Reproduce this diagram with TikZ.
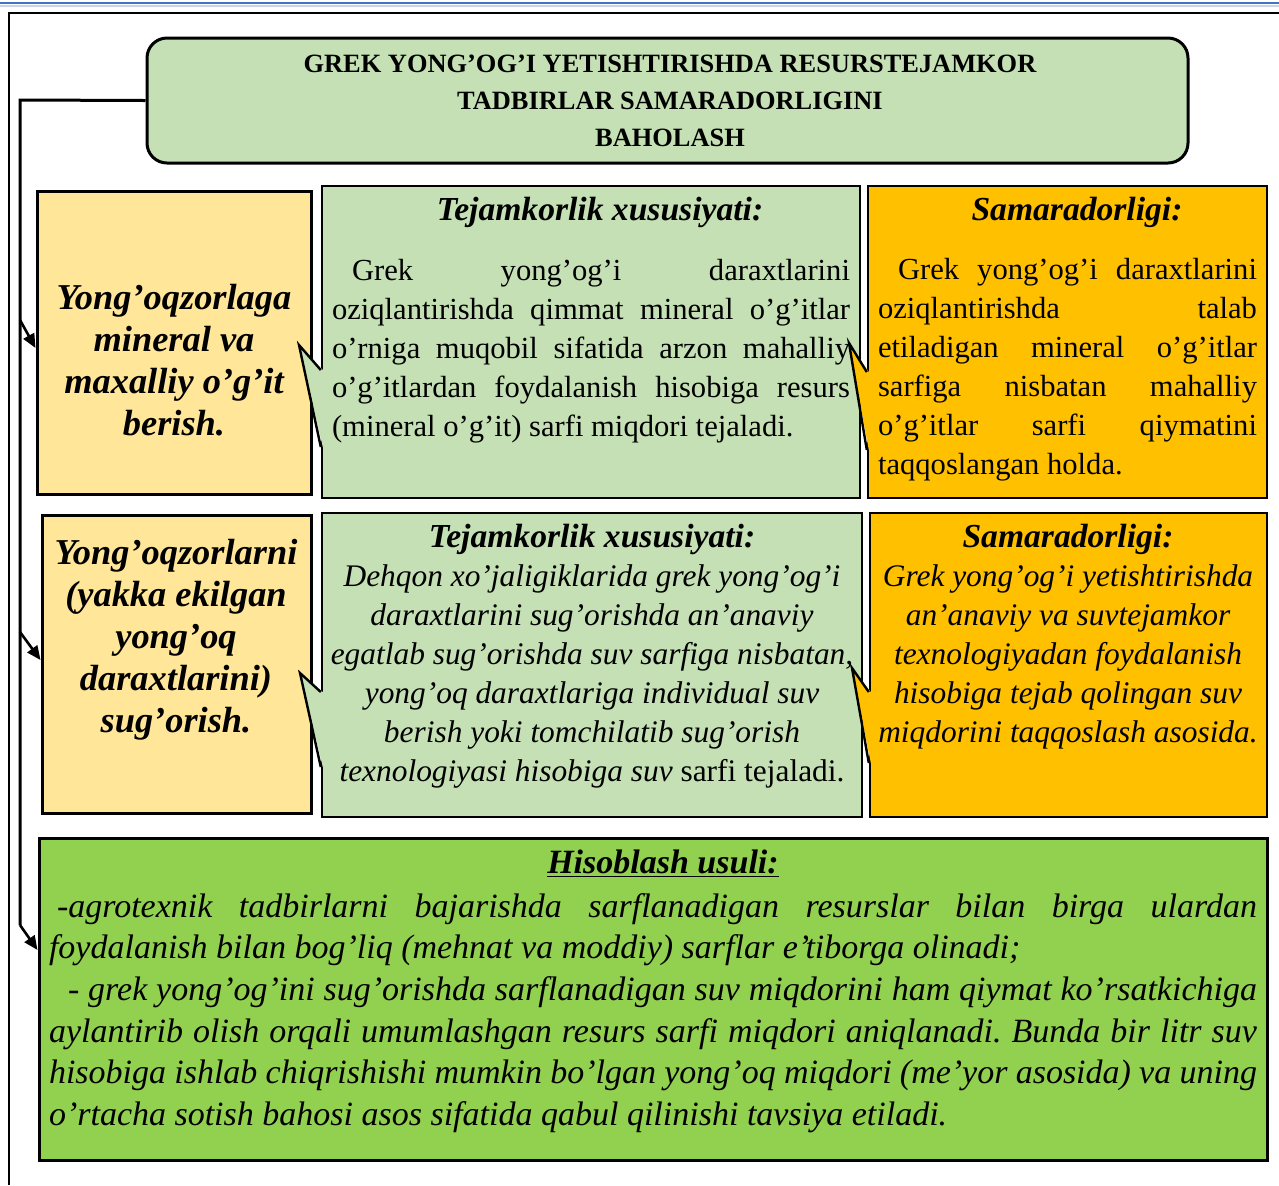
\documentclass[tikz,border=0pt]{standalone}
\usepackage{fontspec}
\setmainfont{Liberation Serif}
\usetikzlibrary{arrows.meta,calc}
\pgfdeclarelayer{bg}
\pgfsetlayers{bg,main}
\definecolor{palegreen}{HTML}{C5E0B4}
\definecolor{paleyellow}{HTML}{FFE699}
\definecolor{amber}{HTML}{FFC000}
\definecolor{leafgreen}{HTML}{92D050}
\definecolor{pageblue}{HTML}{4472C4}
\hyphenpenalty=10000
\frenchspacing
\newcommand\ttlsize{\fontsize{13.2}{18.5}\selectfont\bfseries}
\newcommand\lblsize{\fontsize{18.2}{21}\selectfont\bfseries\itshape}
\newcommand\capsize{\fontsize{16.8}{19.5}\selectfont\bfseries\itshape}
\newcommand\parsize{\fontsize{15.3}{19.5}\selectfont}
\newcommand\itsize{\fontsize{15.7}{19.5}\selectfont\itshape}
\newcommand\sumsize{\fontsize{17}{20.8}\selectfont\itshape}

\begin{document}
\begin{tikzpicture}[x=0.5pt,y=-0.5pt,
        box/.style={draw, line width=1.5pt, inner sep=0pt},
        callbox/.style={draw, line width=1.2pt, inner sep=0pt},
        txt/.style={inner sep=0pt, align=center},
        link/.style={line width=1.3pt, -{Triangle[length=7pt,width=6pt]}}]
        \useasboundingbox (0,0) rectangle (1279,1185);
        % page frame
        \draw[pageblue, line width=1pt] (0,3) -- (1279,3);
        \draw[pageblue!30, line width=0.8pt] (0,6) -- (1279,6);
        \draw[line width=1pt] (9,1185) -- (9,13) -- (1279,13);

        % heading
        \node (head) [box, rounded corners=10pt, fill=palegreen, minimum width=520.5pt, minimum height=62.5pt] at (667.5,100.5) {};
        \node (headtxt) [txt, font=\ttlsize] at (670,101) {GREK YONG’OG’I YETISHTIRISHDA RESURSTEJAMKOR\\TADBIRLAR SAMARADORLIGINI\\BAHOLASH};

        % first row
        \node (b1) [box, fill=paleyellow, minimum width=137pt, minimum height=151.5pt] at (174,342.5) {};
        \node (b2) [callbox, fill=palegreen, minimum width=269pt, minimum height=156pt] at (591,342) {};
        \node (b3) [callbox, fill=amber, minimum width=199.5pt, minimum height=156pt] at (1067.5,342) {};
        \fill[palegreen] (299,345) -- ($(b2.west)+(2,28)$) -- ($(b2.west)+(2,105)$) -- cycle;
        \draw[line width=1.2pt] ($(b2.west)+(0,28)$) -- (299,345) -- ($(b2.west)+(0,105)$);
        \fill[amber] (849,343) -- ($(b3.west)+(2,30)$) -- ($(b3.west)+(2,108)$) -- cycle;
        \draw[line width=1.2pt] ($(b3.west)+(0,30)$) -- (849,343) -- ($(b3.west)+(0,108)$);
        \node (t1) [txt, font=\lblsize] at (174,360) {Yong’oqzorlaga\\mineral va\\maxalliy o’g’it\\berish.};
        \node (c2) [txt, font=\capsize] at (600,212) {Tejamkorlik xususiyati:};
        \node (t2) [txt, font=\parsize, text width=259pt, align=justify] at (591,351) {\noindent\hspace*{10pt}Grek yong’og’i daraxtlarini\linebreak oziqlantirishda qimmat mineral o’g’itlar\linebreak o’rniga muqobil sifatida arzon mahalliy\linebreak o’g’itlardan foydalanish hisobiga resurs\linebreak (mineral o’g’it) sarfi miqdori tejaladi.};
        \node (c3) [txt, font=\capsize] at (1077,212) {Samaradorligi:};
        \node (t3) [txt, font=\parsize, text width=189.5pt, align=justify] at (1067.5,370) {\noindent\hspace*{10pt}Grek yong’og’i daraxtlarini\linebreak oziqlantirishda talab\linebreak etiladigan mineral o’g’itlar\linebreak sarfiga nisbatan mahalliy\linebreak o’g’itlar sarfi qiymatini\linebreak taqqoslangan holda.};

        % second row
        \node (b4) [box, fill=paleyellow, minimum width=134.5pt, minimum height=149pt] at (176.5,664) {};
        \node (b5) [callbox, fill=palegreen, minimum width=270pt, minimum height=152pt] at (592,665) {};
        \node (b6) [callbox, fill=amber, minimum width=198.5pt, minimum height=152pt] at (1068.5,665) {};
        \fill[palegreen] (300,673) -- ($(b5.west)+(2,27)$) -- ($(b5.west)+(2,102)$) -- cycle;
        \draw[line width=1.2pt] ($(b5.west)+(0,27)$) -- (300,673) -- ($(b5.west)+(0,102)$);
        \fill[amber] (852,668) -- ($(b6.west)+(2,27)$) -- ($(b6.west)+(2,98)$) -- cycle;
        \draw[line width=1.2pt] ($(b6.west)+(0,27)$) -- (852,668) -- ($(b6.west)+(0,98)$);
        \node (t4) [txt, font=\lblsize] at (176,640) {Yong’oqzorlarni\\(yakka ekilgan\\yong’oq\\daraxtlarini)\\sug’orish.};
        \node (c5) [txt, font=\capsize] at (592,539) {Tejamkorlik xususiyati:};
        \node (t5) [txt, font=\itsize] at (592,676) {Dehqon xo’jaligiklarida grek yong’og’i\\daraxtlarini sug’orishda an’anaviy\\egatlab sug’orishda suv sarfiga nisbatan,\\yong’oq daraxtlariga individual suv\\berish yoki tomchilatib sug’orish\\texnologiyasi hisobiga suv \textup{sarfi tejaladi.}};
        \node (c6) [txt, font=\capsize] at (1068,539) {Samaradorligi:};
        \node (t6) [txt, font=\itsize] at (1068,656.5) {Grek yong’og’i yetishtirishda\\an’anaviy va suvtejamkor\\texnologiyadan foydalanish\\hisobiga tejab qolingan suv\\miqdorini taqqoslash asosida.};

        % method
        \node (b7) [box, fill=leafgreen, minimum width=614pt, minimum height=161pt] at (653,999) {};
        \node (c7) [txt, font=\capsize\fontsize{17}{20.8}\selectfont] at (663,864) {\underline{Hisoblash usuli:}};
        \node (t7) [txt, font=\sumsize, text width=604pt, align=justify] at (653,1013) {\noindent\hspace*{4pt}-agrotexnik tadbirlarni bajarishda sarflanadigan resurslar bilan birga ulardan\linebreak foydalanish bilan bog’liq (mehnat va moddiy) sarflar e’tiborga olinadi;\par\noindent\hspace*{9.5pt}- grek yong’og’ini sug’orishda sarflanadigan suv miqdorini ham qiymat ko’rsatkichiga\linebreak aylantirib olish orqali umumlashgan resurs sarfi miqdori aniqlanadi. Bunda bir litr suv\linebreak hisobiga ishlab chiqrishishi mumkin bo’lgan yong’oq miqdori (me’yor asosida) va uning\linebreak o’rtacha sotish bahosi asos sifatida qabul qilinishi tavsiya etiladi.};

        % links
        \coordinate (k0) at (20,100);
        \coordinate (k1) at (20,320);
        \coordinate (k2) at (20,632);
        \coordinate (k3) at (20,925);
        \draw[line width=1.5pt] (head.west) -- (k0) -- (k3);
        \draw[link] (k1) -- ([yshift=-2.75pt]b1.west);
        \draw[link] (k2) -- ([yshift=2pt]b4.west);
        \draw[link] (k3) -- ([yshift=24.5pt]b7.west);
\end{tikzpicture}
\end{document}
